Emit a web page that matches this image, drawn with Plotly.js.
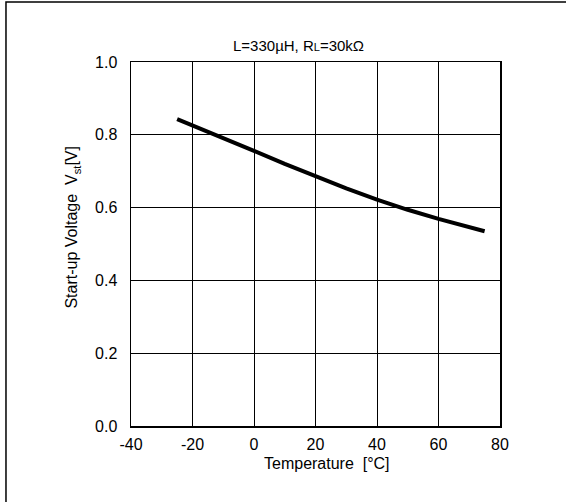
<!DOCTYPE html>
<html><head><meta charset="utf-8">
<script src="https://cdn.plot.ly/plotly-3.0.1.min.js"></script>
<style>html,body{margin:0;padding:0;background:#fff;}#chart{width:566px;height:502px;}</style>
</head><body><div id="chart"></div>
<script>
const temperature = [-25, -20, -10, 0, 10, 20, 30, 40, 50, 60, 70, 75];
const startupVoltage = [0.843, 0.826, 0.791, 0.756, 0.72, 0.686, 0.653, 0.622, 0.594, 0.569, 0.547, 0.535];
const xTicks = [-40, -20, 0, 20, 40, 60, 80];
const xTickLabels = ['-40', '-20', '0', '20', '40', '60', '80'];
const yTicks = [0, 0.2, 0.4, 0.6, 0.8, 1.0];
const yTickLabels = ['0.0', '0.2', '0.4', '0.6', '0.8', '1.0'];

const font = {family: 'Liberation Sans, Arial, sans-serif', size: 15, color: '#000'};
const bigFont = {family: 'Liberation Sans, Arial, sans-serif', size: 16, color: '#000'};
const trace = {
  x: temperature, y: startupVoltage, mode: 'lines', type: 'scatter',
  line: {color: '#000', width: 4, shape: 'linear'}, hoverinfo: 'skip'
};
const layout = {
  width: 566, height: 502,
  margin: {l: 131, r: 66, t: 62, b: 76},
  paper_bgcolor: '#fff', plot_bgcolor: '#fff',
  font: font, showlegend: false,
  xaxis: {range: [-40, 80], tickvals: xTicks, ticktext: xTickLabels, ticks: '', showgrid: true, gridcolor: '#000', gridwidth: 1,
    zeroline: false, showline: true, linecolor: '#000', linewidth: 1.5, mirror: true, fixedrange: true, tickfont: bigFont,
    ticklabelstandoff: 3},
  yaxis: {range: [0, 1.0], tickvals: yTicks, ticktext: yTickLabels, ticks: '', showgrid: true, gridcolor: '#000', gridwidth: 1,
    zeroline: false, showline: true, linecolor: '#000', linewidth: 1.5, mirror: true, fixedrange: true, tickfont: bigFont,
    ticklabelstandoff: 9},
  annotations: [
    {xref: 'paper', yref: 'paper', x: 0.455, y: 1.0, yshift: 17, showarrow: false, xanchor: 'center', yanchor: 'middle',
     text: 'L=330µH, R<span style="font-size:11px">L</span>=30kΩ', font: font},
    {xref: 'paper', yref: 'paper', x: 0.532, y: 0, yshift: -37, showarrow: false, xanchor: 'center', yanchor: 'middle',
     text: 'Temperature  [°C]', font: bigFont},
    {xref: 'paper', yref: 'paper', x: 0, xshift: -58, y: 0.545, showarrow: false, xanchor: 'center', yanchor: 'middle',
     textangle: -90, text: 'Start-up Voltage  V<sub>st</sub>[V]', font: bigFont}
  ],
  shapes: [
    {type: 'rect', xref: 'paper', yref: 'paper', x0: -0.3388, x1: 1.4, y0: -0.3, y1: 1.1648,
     line: {color: '#000', width: 1.5}, fillcolor: 'rgba(0,0,0,0)', layer: 'below'}
  ]
};
Plotly.newPlot('chart', [trace], layout, {displayModeBar: false, staticPlot: true});
</script></body></html>
